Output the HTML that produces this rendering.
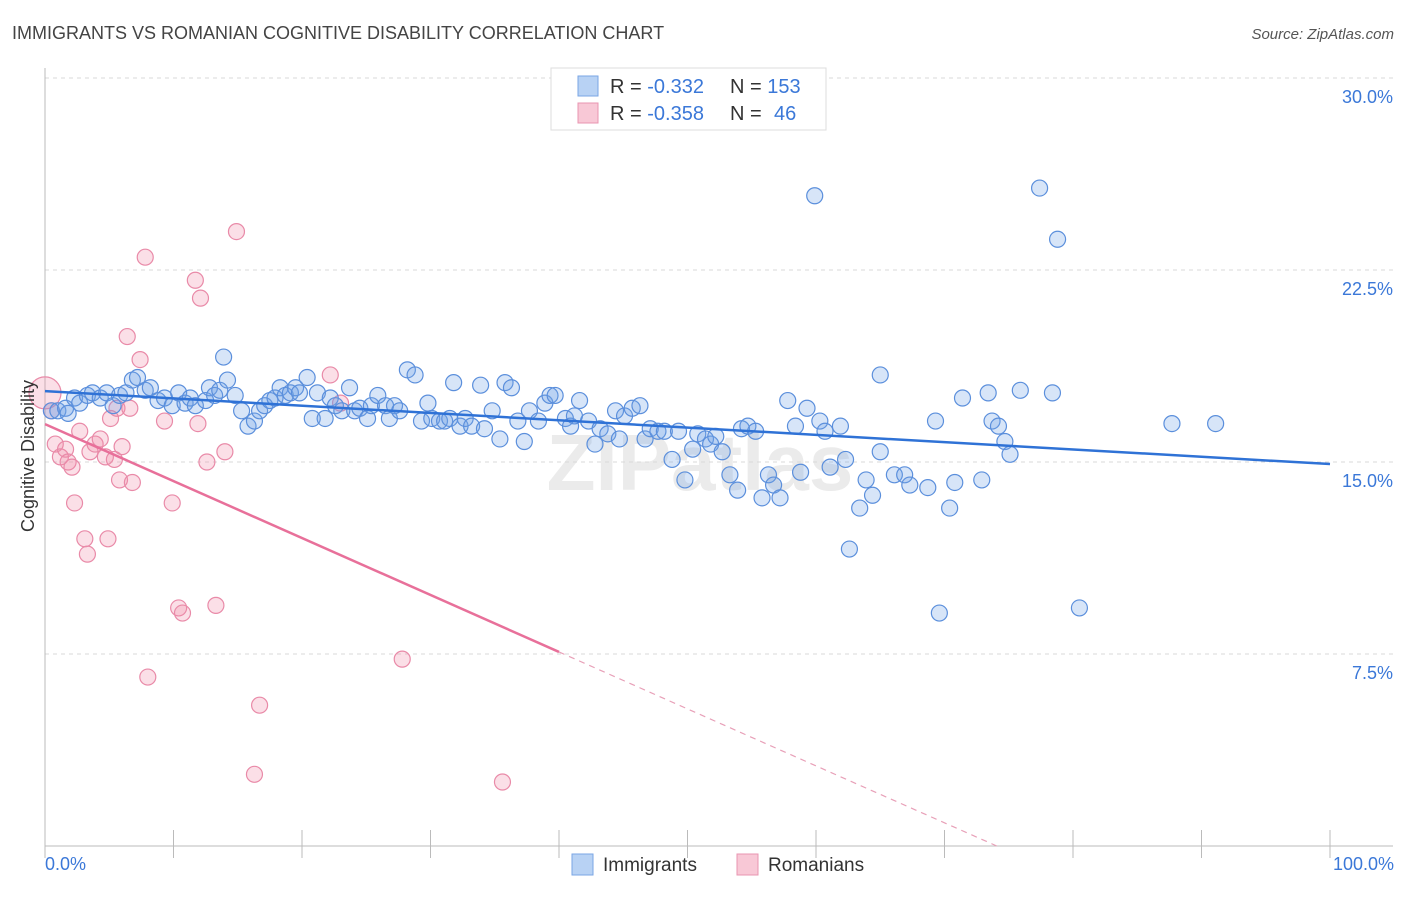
<!DOCTYPE html>
<html><head><meta charset="utf-8">
<style>
body{margin:0;background:#fff;font-family:"Liberation Sans",sans-serif;}
svg text{font-family:"Liberation Sans",sans-serif;}
</style></head>
<body>
<svg id="chart" width="1406" height="892" viewBox="0 0 1406 892">
<text x="12" y="39" font-size="18" fill="#444">IMMIGRANTS VS ROMANIAN COGNITIVE DISABILITY CORRELATION CHART</text>
<text x="1394" y="39" font-size="15" fill="#555" font-style="italic" text-anchor="end">Source: ZipAtlas.com</text>
<text x="700" y="490" font-size="80" fill="#ebebeb" text-anchor="middle" font-weight="bold">ZIPatlas</text>
<g id="grid"></g>
<g id="axes"></g>
<g id="pinkpts"></g>
<g id="bluepts"></g>
<g id="trends"></g>
<text transform="translate(34,456) rotate(-90)" font-size="18" fill="#333" text-anchor="middle">Cognitive Disability</text>
<text x="45" y="870" font-size="18" fill="#3b78d8">0.0%</text>
<text x="1394" y="870" font-size="18" fill="#3b78d8" text-anchor="end">100.0%</text>
<g>
<rect x="551" y="68" width="275" height="62" fill="#fff" stroke="#ddd"/>
<rect x="578" y="76" width="20" height="20" fill="#b8d2f4" stroke="#7aa6e4"/>
<rect x="578" y="103" width="20" height="20" fill="#f8c8d6" stroke="#e995b0"/>
<text x="610" y="93" font-size="20" fill="#333">R = <tspan fill="#3b78d8">-0.332</tspan><tspan x="730">N = </tspan><tspan fill="#3b78d8">153</tspan></text>
<text x="610" y="120" font-size="20" fill="#333">R = <tspan fill="#3b78d8">-0.358</tspan><tspan x="730">N = </tspan><tspan fill="#3b78d8" x="774">46</tspan></text>
</g>
<g>
<rect x="572" y="854" width="21" height="21" fill="#b8d2f4" stroke="#7aa6e4"/>
<text x="603" y="871" font-size="19" fill="#333">Immigrants</text>
<rect x="737" y="854" width="21" height="21" fill="#f8c8d6" stroke="#e995b0"/>
<text x="768" y="871" font-size="19" fill="#333">Romanians</text>
</g>
</svg>
<script>
const yTicks=[7.5,15,22.5,30];
const yTickLabels=["7.5%","15.0%","22.5%","30.0%"];
const xTicks=[0,10,20,30,40,50,60,70,80,90,100];
const blueX=[0.5,1.0,1.6,1.8,2.3,2.7,3.3,3.7,4.3,4.8,5.3,5.8,6.3,6.8,7.2,7.8,8.2,8.8,9.3,9.9,10.4,10.9,11.3,11.7,12.5,12.8,13.2,13.6,13.9,14.2,14.8,15.3,15.8,16.3,16.7,17.1,17.5,17.9,18.3,18.7,19.1,19.5,19.8,20.4,20.8,21.2,21.8,22.2,22.6,23.1,23.7,24.1,24.5,25.1,25.4,25.9,26.5,26.8,27.2,27.6,28.2,28.8,29.3,29.8,30.1,30.7,31.1,31.5,31.8,32.3,32.7,33.2,33.9,34.2,34.8,35.4,35.8,36.3,36.8,37.3,37.7,38.4,38.9,39.3,39.7,40.5,40.9,41.2,41.6,42.3,42.8,43.2,43.8,44.4,44.7,45.1,45.7,46.3,46.7,47.1,47.7,48.2,48.8,49.3,49.8,50.4,50.8,51.4,51.8,52.2,52.7,53.3,53.9,54.2,54.7,55.3,55.8,56.3,56.7,57.2,57.8,58.4,58.8,59.3,59.9,60.3,60.7,61.1,61.9,62.3,62.6,63.4,63.9,64.4,65.0,65.0,66.1,66.9,67.3,68.7,69.3,69.6,70.4,70.8,71.4,72.9,73.4,73.7,74.2,74.7,75.1,75.9,77.4,78.4,78.8,80.5,87.7,91.1];
const blueY=[17.0,17.0,17.1,16.9,17.5,17.3,17.6,17.7,17.5,17.7,17.2,17.6,17.7,18.2,18.3,17.8,17.9,17.4,17.5,17.2,17.7,17.3,17.5,17.2,17.4,17.9,17.6,17.8,19.1,18.2,17.6,17.0,16.4,16.6,17.0,17.2,17.4,17.5,17.9,17.6,17.7,17.9,17.7,18.3,16.7,17.7,16.7,17.5,17.2,17.0,17.9,17.0,17.1,16.7,17.2,17.6,17.2,16.7,17.2,17.0,18.6,18.4,16.6,17.3,16.7,16.6,16.6,16.7,18.1,16.4,16.7,16.4,18.0,16.3,17.0,15.9,18.1,17.9,16.6,15.8,17.0,16.6,17.3,17.6,17.6,16.7,16.4,16.8,17.4,16.6,15.7,16.3,16.1,17.0,15.9,16.8,17.1,17.2,15.9,16.3,16.2,16.2,15.1,16.2,14.3,15.5,16.1,15.9,15.7,16.0,15.4,14.5,13.9,16.3,16.4,16.2,13.6,14.5,14.1,13.6,17.4,16.4,14.6,17.1,25.4,16.6,16.2,14.8,16.4,15.1,11.6,13.2,14.3,13.7,15.4,18.4,14.5,14.5,14.1,14.0,16.6,9.1,13.2,14.2,17.5,14.3,17.7,16.6,16.4,15.8,15.3,17.8,25.7,17.7,23.7,9.3,16.5,16.5];
const pinkX=[0,0.5,0.8,1.2,1.6,1.8,2.1,2.3,2.7,3.1,3.3,3.5,3.9,4.3,4.7,4.9,5.1,5.4,5.6,5.8,6.0,6.4,6.6,6.8,7.4,7.8,8.0,9.3,9.9,10.4,10.7,11.7,11.9,12.1,12.6,13.3,14.0,14.9,16.3,16.7,22.2,23.0,27.8,35.6];
const pinkY=[17.7,17.0,15.7,15.2,15.5,15.0,14.8,13.4,16.2,12.0,11.4,15.4,15.7,15.9,15.2,12.0,16.7,15.1,17.1,14.3,15.6,19.9,17.1,14.2,19.0,23.0,6.6,16.6,13.4,9.3,9.1,22.1,16.5,21.4,15.0,9.4,15.4,24.0,2.8,5.5,18.4,17.3,7.3,2.5];
const blueTrend=[17.77,14.92];
const pinkTrend=[16.48,-0.2225];
const NS="http://www.w3.org/2000/svg";
const X0=45,X1=1330,Y0=846,YS=25.6;
function sx(v){return X0+(X1-X0)*v/100;}
function sy(v){return Y0-v*YS;}
function mk(tag,attrs,parent){const e=document.createElementNS(NS,tag);for(const k in attrs)e.setAttribute(k,attrs[k]);parent.appendChild(e);return e;}
const grid=document.getElementById('grid'),axes=document.getElementById('axes');
yTicks.forEach((t,i)=>{
 const l=mk('line',{x1:45,x2:1393,y1:sy(t),y2:sy(t),stroke:'#d8d8d8','stroke-dasharray':'4,4'},grid);
 
 
 const tx=mk('text',{x:1393,y:sy(t)+25,'font-size':18,fill:'#3b78d8','text-anchor':'end'},grid);
 tx.textContent=yTickLabels[i];
 
 
});
const ya=mk('line',{x1:45,x2:45,y1:68,y2:846,stroke:'#bbb'},axes);


const xa=mk('line',{x1:45,x2:1393,y1:846,y2:846,stroke:'#bbb'},axes);


xTicks.forEach(t=>{
 const l=mk('line',{x1:sx(t),x2:sx(t),y1:830,y2:858,stroke:'#bbb'},axes);
 
 
});
const pg=document.getElementById('pinkpts');
pinkX.forEach((x,i)=>{
 const c=mk('circle',{cx:sx(x),cy:sy(pinkY[i]),r:i===0?16:8,fill:'rgba(240,140,170,0.28)',stroke:'#e98aa8','stroke-width':1.2},pg);
 
 
});
const bg=document.getElementById('bluepts');
blueX.forEach((x,i)=>{
 const c=mk('circle',{cx:sx(x),cy:sy(blueY[i]),r:8,fill:'rgba(110,160,230,0.28)',stroke:'#5b8fdc','stroke-width':1.2},bg);
 
 
});
const tg=document.getElementById('trends');
const bt=mk('line',{x1:sx(0),y1:sy(blueTrend[0]),x2:sx(100),y2:sy(blueTrend[1]),stroke:'#2f72d6','stroke-width':2.5},tg);


const pv=x=>pinkTrend[0]+pinkTrend[1]*x;
const xz=-pinkTrend[0]/pinkTrend[1];
const pt=mk('line',{x1:sx(0),y1:sy(pv(0)),x2:sx(40),y2:sy(pv(40)),stroke:'#e8709a','stroke-width':2.5},tg);


const pd=mk('line',{x1:sx(40),y1:sy(pv(40)),x2:sx(xz),y2:sy(0),stroke:'#e8a0b8','stroke-width':1.2,'stroke-dasharray':'6,5'},tg);


</script>
</body></html>
